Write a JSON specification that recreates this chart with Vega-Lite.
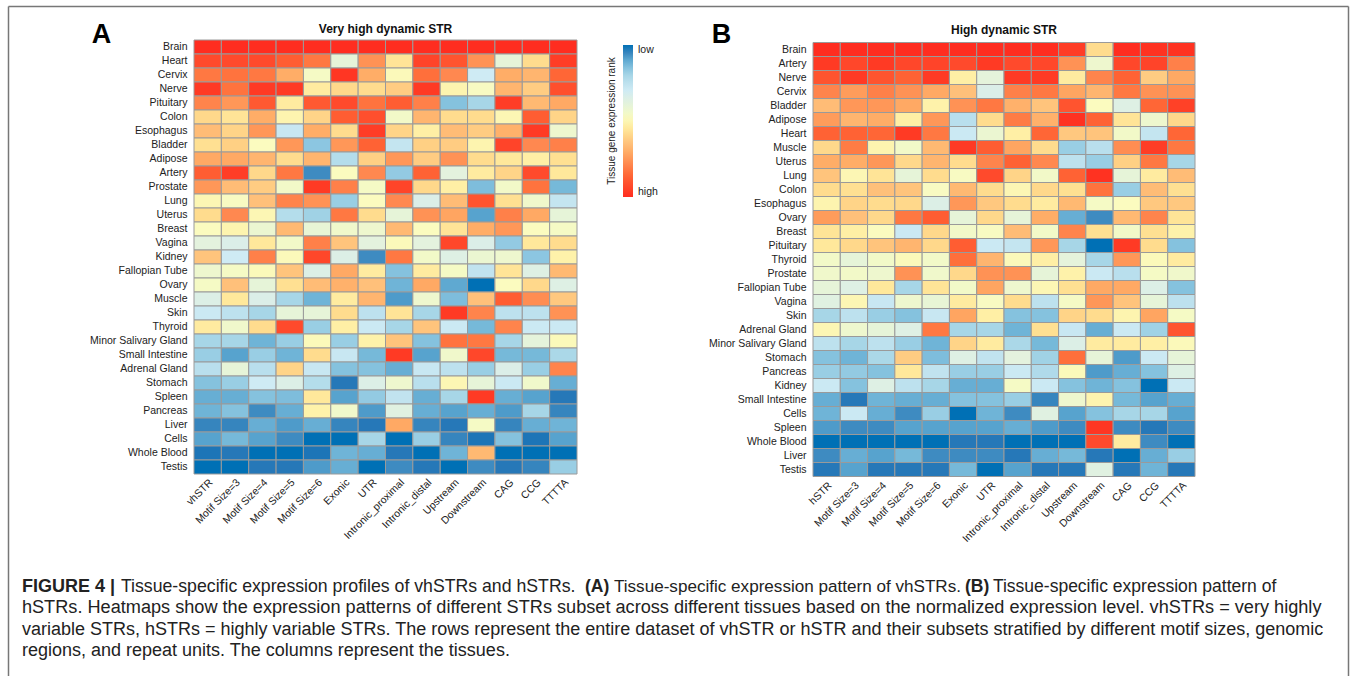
{"$schema":"https://vega.github.io/schema/vega-lite/v6.json","padding":{"left":8,"top":6,"right":6,"bottom":0},"background":"white","config":{"view":{"stroke":null},"font":"Liberation Sans","axis":{"ticks":false,"domain":false,"grid":false,"labelFont":"Liberation Sans","labelFontSize":10.5,"labelColor":"#222"},"title":{"font":"Liberation Sans","fontSize":12,"fontWeight":"bold","color":"#111"},"legend":{"labelFont":"Liberation Sans","titleFont":"Liberation Sans"}},
"datasets":{"a":[
{"t":"Brain","c":"vhSTR","v":0},{"t":"Brain","c":"Motif Size=3","v":0},{"t":"Brain","c":"Motif Size=4","v":0},{"t":"Brain","c":"Motif Size=5","v":0},{"t":"Brain","c":"Motif Size=6","v":0},{"t":"Brain","c":"Exonic","v":0},{"t":"Brain","c":"UTR","v":0},{"t":"Brain","c":"Intronic_proximal","v":0},{"t":"Brain","c":"Intronic_distal","v":0},{"t":"Brain","c":"Upstream","v":0},{"t":"Brain","c":"Downstream","v":0},{"t":"Brain","c":"CAG","v":0},{"t":"Brain","c":"CCG","v":0},{"t":"Brain","c":"TTTTA","v":0},
{"t":"Heart","c":"vhSTR","v":8},{"t":"Heart","c":"Motif Size=3","v":8},{"t":"Heart","c":"Motif Size=4","v":8},{"t":"Heart","c":"Motif Size=5","v":12},{"t":"Heart","c":"Motif Size=6","v":18},{"t":"Heart","c":"Exonic","v":60},{"t":"Heart","c":"UTR","v":24},{"t":"Heart","c":"Intronic_proximal","v":44},{"t":"Heart","c":"Intronic_distal","v":6},{"t":"Heart","c":"Upstream","v":10},{"t":"Heart","c":"Downstream","v":24},{"t":"Heart","c":"CAG","v":60},{"t":"Heart","c":"CCG","v":42},{"t":"Heart","c":"TTTTA","v":4},
{"t":"Cervix","c":"vhSTR","v":18},{"t":"Cervix","c":"Motif Size=3","v":17},{"t":"Cervix","c":"Motif Size=4","v":18},{"t":"Cervix","c":"Motif Size=5","v":30},{"t":"Cervix","c":"Motif Size=6","v":54},{"t":"Cervix","c":"Exonic","v":2},{"t":"Cervix","c":"UTR","v":30},{"t":"Cervix","c":"Intronic_proximal","v":51},{"t":"Cervix","c":"Intronic_distal","v":16},{"t":"Cervix","c":"Upstream","v":22},{"t":"Cervix","c":"Downstream","v":70},{"t":"Cervix","c":"CAG","v":30},{"t":"Cervix","c":"CCG","v":32},{"t":"Cervix","c":"TTTTA","v":14},
{"t":"Nerve","c":"vhSTR","v":3},{"t":"Nerve","c":"Motif Size=3","v":17},{"t":"Nerve","c":"Motif Size=4","v":3},{"t":"Nerve","c":"Motif Size=5","v":3},{"t":"Nerve","c":"Motif Size=6","v":46},{"t":"Nerve","c":"Exonic","v":41},{"t":"Nerve","c":"UTR","v":42},{"t":"Nerve","c":"Intronic_proximal","v":38},{"t":"Nerve","c":"Intronic_distal","v":3},{"t":"Nerve","c":"Upstream","v":49},{"t":"Nerve","c":"Downstream","v":53},{"t":"Nerve","c":"CAG","v":32},{"t":"Nerve","c":"CCG","v":38},{"t":"Nerve","c":"TTTTA","v":9},
{"t":"Pituitary","c":"vhSTR","v":21},{"t":"Pituitary","c":"Motif Size=3","v":25},{"t":"Pituitary","c":"Motif Size=4","v":11},{"t":"Pituitary","c":"Motif Size=5","v":46},{"t":"Pituitary","c":"Motif Size=6","v":11},{"t":"Pituitary","c":"Exonic","v":8},{"t":"Pituitary","c":"UTR","v":17},{"t":"Pituitary","c":"Intronic_proximal","v":12},{"t":"Pituitary","c":"Intronic_distal","v":20},{"t":"Pituitary","c":"Upstream","v":85},{"t":"Pituitary","c":"Downstream","v":80},{"t":"Pituitary","c":"CAG","v":4},{"t":"Pituitary","c":"CCG","v":33},{"t":"Pituitary","c":"TTTTA","v":29},
{"t":"Colon","c":"vhSTR","v":41},{"t":"Colon","c":"Motif Size=3","v":44},{"t":"Colon","c":"Motif Size=4","v":30},{"t":"Colon","c":"Motif Size=5","v":49},{"t":"Colon","c":"Motif Size=6","v":40},{"t":"Colon","c":"Exonic","v":12},{"t":"Colon","c":"UTR","v":9},{"t":"Colon","c":"Intronic_proximal","v":55},{"t":"Colon","c":"Intronic_distal","v":32},{"t":"Colon","c":"Upstream","v":42},{"t":"Colon","c":"Downstream","v":42},{"t":"Colon","c":"CAG","v":50},{"t":"Colon","c":"CCG","v":12},{"t":"Colon","c":"TTTTA","v":40},
{"t":"Esophagus","c":"vhSTR","v":34},{"t":"Esophagus","c":"Motif Size=3","v":40},{"t":"Esophagus","c":"Motif Size=4","v":25},{"t":"Esophagus","c":"Motif Size=5","v":72},{"t":"Esophagus","c":"Motif Size=6","v":30},{"t":"Esophagus","c":"Exonic","v":42},{"t":"Esophagus","c":"UTR","v":4},{"t":"Esophagus","c":"Intronic_proximal","v":40},{"t":"Esophagus","c":"Intronic_distal","v":47},{"t":"Esophagus","c":"Upstream","v":34},{"t":"Esophagus","c":"Downstream","v":38},{"t":"Esophagus","c":"CAG","v":31},{"t":"Esophagus","c":"CCG","v":3},{"t":"Esophagus","c":"TTTTA","v":57},
{"t":"Bladder","c":"vhSTR","v":43},{"t":"Bladder","c":"Motif Size=3","v":39},{"t":"Bladder","c":"Motif Size=4","v":52},{"t":"Bladder","c":"Motif Size=5","v":25},{"t":"Bladder","c":"Motif Size=6","v":84},{"t":"Bladder","c":"Exonic","v":25},{"t":"Bladder","c":"UTR","v":13},{"t":"Bladder","c":"Intronic_proximal","v":73},{"t":"Bladder","c":"Intronic_distal","v":39},{"t":"Bladder","c":"Upstream","v":38},{"t":"Bladder","c":"Downstream","v":49},{"t":"Bladder","c":"CAG","v":6},{"t":"Bladder","c":"CCG","v":22},{"t":"Bladder","c":"TTTTA","v":20},
{"t":"Adipose","c":"vhSTR","v":29},{"t":"Adipose","c":"Motif Size=3","v":29},{"t":"Adipose","c":"Motif Size=4","v":32},{"t":"Adipose","c":"Motif Size=5","v":42},{"t":"Adipose","c":"Motif Size=6","v":32},{"t":"Adipose","c":"Exonic","v":77},{"t":"Adipose","c":"UTR","v":39},{"t":"Adipose","c":"Intronic_proximal","v":25},{"t":"Adipose","c":"Intronic_distal","v":38},{"t":"Adipose","c":"Upstream","v":24},{"t":"Adipose","c":"Downstream","v":42},{"t":"Adipose","c":"CAG","v":45},{"t":"Adipose","c":"CCG","v":47},{"t":"Adipose","c":"TTTTA","v":43},
{"t":"Artery","c":"vhSTR","v":12},{"t":"Artery","c":"Motif Size=3","v":4},{"t":"Artery","c":"Motif Size=4","v":41},{"t":"Artery","c":"Motif Size=5","v":18},{"t":"Artery","c":"Motif Size=6","v":94},{"t":"Artery","c":"Exonic","v":52},{"t":"Artery","c":"UTR","v":22},{"t":"Artery","c":"Intronic_proximal","v":83},{"t":"Artery","c":"Intronic_distal","v":13},{"t":"Artery","c":"Upstream","v":62},{"t":"Artery","c":"Downstream","v":46},{"t":"Artery","c":"CAG","v":40},{"t":"Artery","c":"CCG","v":8},{"t":"Artery","c":"TTTTA","v":45},
{"t":"Prostate","c":"vhSTR","v":25},{"t":"Prostate","c":"Motif Size=3","v":34},{"t":"Prostate","c":"Motif Size=4","v":38},{"t":"Prostate","c":"Motif Size=5","v":55},{"t":"Prostate","c":"Motif Size=6","v":3},{"t":"Prostate","c":"Exonic","v":20},{"t":"Prostate","c":"UTR","v":54},{"t":"Prostate","c":"Intronic_proximal","v":6},{"t":"Prostate","c":"Intronic_distal","v":41},{"t":"Prostate","c":"Upstream","v":47},{"t":"Prostate","c":"Downstream","v":86},{"t":"Prostate","c":"CAG","v":55},{"t":"Prostate","c":"CCG","v":17},{"t":"Prostate","c":"TTTTA","v":87},
{"t":"Lung","c":"vhSTR","v":50},{"t":"Lung","c":"Motif Size=3","v":53},{"t":"Lung","c":"Motif Size=4","v":35},{"t":"Lung","c":"Motif Size=5","v":21},{"t":"Lung","c":"Motif Size=6","v":24},{"t":"Lung","c":"Exonic","v":82},{"t":"Lung","c":"UTR","v":52},{"t":"Lung","c":"Intronic_proximal","v":22},{"t":"Lung","c":"Intronic_distal","v":66},{"t":"Lung","c":"Upstream","v":34},{"t":"Lung","c":"Downstream","v":10},{"t":"Lung","c":"CAG","v":43},{"t":"Lung","c":"CCG","v":56},{"t":"Lung","c":"TTTTA","v":73},
{"t":"Uterus","c":"vhSTR","v":42},{"t":"Uterus","c":"Motif Size=3","v":22},{"t":"Uterus","c":"Motif Size=4","v":50},{"t":"Uterus","c":"Motif Size=5","v":77},{"t":"Uterus","c":"Motif Size=6","v":81},{"t":"Uterus","c":"Exonic","v":18},{"t":"Uterus","c":"UTR","v":42},{"t":"Uterus","c":"Intronic_proximal","v":60},{"t":"Uterus","c":"Intronic_distal","v":24},{"t":"Uterus","c":"Upstream","v":28},{"t":"Uterus","c":"Downstream","v":91},{"t":"Uterus","c":"CAG","v":20},{"t":"Uterus","c":"CCG","v":29},{"t":"Uterus","c":"TTTTA","v":60},
{"t":"Breast","c":"vhSTR","v":52},{"t":"Breast","c":"Motif Size=3","v":49},{"t":"Breast","c":"Motif Size=4","v":58},{"t":"Breast","c":"Motif Size=5","v":33},{"t":"Breast","c":"Motif Size=6","v":59},{"t":"Breast","c":"Exonic","v":56},{"t":"Breast","c":"UTR","v":57},{"t":"Breast","c":"Intronic_proximal","v":33},{"t":"Breast","c":"Intronic_distal","v":52},{"t":"Breast","c":"Upstream","v":44},{"t":"Breast","c":"Downstream","v":30},{"t":"Breast","c":"CAG","v":25},{"t":"Breast","c":"CCG","v":52},{"t":"Breast","c":"TTTTA","v":54},
{"t":"Vagina","c":"vhSTR","v":62},{"t":"Vagina","c":"Motif Size=3","v":66},{"t":"Vagina","c":"Motif Size=4","v":45},{"t":"Vagina","c":"Motif Size=5","v":55},{"t":"Vagina","c":"Motif Size=6","v":20},{"t":"Vagina","c":"Exonic","v":36},{"t":"Vagina","c":"UTR","v":62},{"t":"Vagina","c":"Intronic_proximal","v":51},{"t":"Vagina","c":"Intronic_distal","v":62},{"t":"Vagina","c":"Upstream","v":7},{"t":"Vagina","c":"Downstream","v":66},{"t":"Vagina","c":"CAG","v":83},{"t":"Vagina","c":"CCG","v":45},{"t":"Vagina","c":"TTTTA","v":42},
{"t":"Kidney","c":"vhSTR","v":36},{"t":"Kidney","c":"Motif Size=3","v":70},{"t":"Kidney","c":"Motif Size=4","v":20},{"t":"Kidney","c":"Motif Size=5","v":51},{"t":"Kidney","c":"Motif Size=6","v":7},{"t":"Kidney","c":"Exonic","v":65},{"t":"Kidney","c":"UTR","v":94},{"t":"Kidney","c":"Intronic_proximal","v":18},{"t":"Kidney","c":"Intronic_distal","v":55},{"t":"Kidney","c":"Upstream","v":64},{"t":"Kidney","c":"Downstream","v":58},{"t":"Kidney","c":"CAG","v":57},{"t":"Kidney","c":"CCG","v":84},{"t":"Kidney","c":"TTTTA","v":48},
{"t":"Fallopian Tube","c":"vhSTR","v":57},{"t":"Fallopian Tube","c":"Motif Size=3","v":54},{"t":"Fallopian Tube","c":"Motif Size=4","v":51},{"t":"Fallopian Tube","c":"Motif Size=5","v":36},{"t":"Fallopian Tube","c":"Motif Size=6","v":65},{"t":"Fallopian Tube","c":"Exonic","v":29},{"t":"Fallopian Tube","c":"UTR","v":46},{"t":"Fallopian Tube","c":"Intronic_proximal","v":85},{"t":"Fallopian Tube","c":"Intronic_distal","v":46},{"t":"Fallopian Tube","c":"Upstream","v":54},{"t":"Fallopian Tube","c":"Downstream","v":74},{"t":"Fallopian Tube","c":"CAG","v":44},{"t":"Fallopian Tube","c":"CCG","v":64},{"t":"Fallopian Tube","c":"TTTTA","v":33},
{"t":"Ovary","c":"vhSTR","v":54},{"t":"Ovary","c":"Motif Size=3","v":35},{"t":"Ovary","c":"Motif Size=4","v":60},{"t":"Ovary","c":"Motif Size=5","v":43},{"t":"Ovary","c":"Motif Size=6","v":34},{"t":"Ovary","c":"Exonic","v":31},{"t":"Ovary","c":"UTR","v":35},{"t":"Ovary","c":"Intronic_proximal","v":88},{"t":"Ovary","c":"Intronic_distal","v":29},{"t":"Ovary","c":"Upstream","v":90},{"t":"Ovary","c":"Downstream","v":100},{"t":"Ovary","c":"CAG","v":52},{"t":"Ovary","c":"CCG","v":41},{"t":"Ovary","c":"TTTTA","v":64},
{"t":"Muscle","c":"vhSTR","v":65},{"t":"Muscle","c":"Motif Size=3","v":45},{"t":"Muscle","c":"Motif Size=4","v":66},{"t":"Muscle","c":"Motif Size=5","v":80},{"t":"Muscle","c":"Motif Size=6","v":88},{"t":"Muscle","c":"Exonic","v":46},{"t":"Muscle","c":"UTR","v":32},{"t":"Muscle","c":"Intronic_proximal","v":92},{"t":"Muscle","c":"Intronic_distal","v":57},{"t":"Muscle","c":"Upstream","v":86},{"t":"Muscle","c":"Downstream","v":35},{"t":"Muscle","c":"CAG","v":12},{"t":"Muscle","c":"CCG","v":23},{"t":"Muscle","c":"TTTTA","v":37},
{"t":"Skin","c":"vhSTR","v":71},{"t":"Skin","c":"Motif Size=3","v":75},{"t":"Skin","c":"Motif Size=4","v":80},{"t":"Skin","c":"Motif Size=5","v":60},{"t":"Skin","c":"Motif Size=6","v":60},{"t":"Skin","c":"Exonic","v":42},{"t":"Skin","c":"UTR","v":75},{"t":"Skin","c":"Intronic_proximal","v":44},{"t":"Skin","c":"Intronic_distal","v":80},{"t":"Skin","c":"Upstream","v":3},{"t":"Skin","c":"Downstream","v":21},{"t":"Skin","c":"CAG","v":75},{"t":"Skin","c":"CCG","v":75},{"t":"Skin","c":"TTTTA","v":24},
{"t":"Thyroid","c":"vhSTR","v":46},{"t":"Thyroid","c":"Motif Size=3","v":56},{"t":"Thyroid","c":"Motif Size=4","v":42},{"t":"Thyroid","c":"Motif Size=5","v":8},{"t":"Thyroid","c":"Motif Size=6","v":82},{"t":"Thyroid","c":"Exonic","v":47},{"t":"Thyroid","c":"UTR","v":71},{"t":"Thyroid","c":"Intronic_proximal","v":80},{"t":"Thyroid","c":"Intronic_distal","v":36},{"t":"Thyroid","c":"Upstream","v":71},{"t":"Thyroid","c":"Downstream","v":87},{"t":"Thyroid","c":"CAG","v":21},{"t":"Thyroid","c":"CCG","v":71},{"t":"Thyroid","c":"TTTTA","v":71},
{"t":"Minor Salivary Gland","c":"vhSTR","v":80},{"t":"Minor Salivary Gland","c":"Motif Size=3","v":80},{"t":"Minor Salivary Gland","c":"Motif Size=4","v":88},{"t":"Minor Salivary Gland","c":"Motif Size=5","v":82},{"t":"Minor Salivary Gland","c":"Motif Size=6","v":51},{"t":"Minor Salivary Gland","c":"Exonic","v":82},{"t":"Minor Salivary Gland","c":"UTR","v":48},{"t":"Minor Salivary Gland","c":"Intronic_proximal","v":36},{"t":"Minor Salivary Gland","c":"Intronic_distal","v":85},{"t":"Minor Salivary Gland","c":"Upstream","v":17},{"t":"Minor Salivary Gland","c":"Downstream","v":18},{"t":"Minor Salivary Gland","c":"CAG","v":80},{"t":"Minor Salivary Gland","c":"CCG","v":61},{"t":"Minor Salivary Gland","c":"TTTTA","v":51},
{"t":"Small Intestine","c":"vhSTR","v":82},{"t":"Small Intestine","c":"Motif Size=3","v":91},{"t":"Small Intestine","c":"Motif Size=4","v":82},{"t":"Small Intestine","c":"Motif Size=5","v":88},{"t":"Small Intestine","c":"Motif Size=6","v":42},{"t":"Small Intestine","c":"Exonic","v":72},{"t":"Small Intestine","c":"UTR","v":87},{"t":"Small Intestine","c":"Intronic_proximal","v":3},{"t":"Small Intestine","c":"Intronic_distal","v":91},{"t":"Small Intestine","c":"Upstream","v":56},{"t":"Small Intestine","c":"Downstream","v":7},{"t":"Small Intestine","c":"CAG","v":87},{"t":"Small Intestine","c":"CCG","v":87},{"t":"Small Intestine","c":"TTTTA","v":79},
{"t":"Adrenal Gland","c":"vhSTR","v":76},{"t":"Adrenal Gland","c":"Motif Size=3","v":60},{"t":"Adrenal Gland","c":"Motif Size=4","v":76},{"t":"Adrenal Gland","c":"Motif Size=5","v":40},{"t":"Adrenal Gland","c":"Motif Size=6","v":72},{"t":"Adrenal Gland","c":"Exonic","v":85},{"t":"Adrenal Gland","c":"UTR","v":85},{"t":"Adrenal Gland","c":"Intronic_proximal","v":89},{"t":"Adrenal Gland","c":"Intronic_distal","v":72},{"t":"Adrenal Gland","c":"Upstream","v":75},{"t":"Adrenal Gland","c":"Downstream","v":82},{"t":"Adrenal Gland","c":"CAG","v":66},{"t":"Adrenal Gland","c":"CCG","v":82},{"t":"Adrenal Gland","c":"TTTTA","v":21},
{"t":"Stomach","c":"vhSTR","v":85},{"t":"Stomach","c":"Motif Size=3","v":82},{"t":"Stomach","c":"Motif Size=4","v":70},{"t":"Stomach","c":"Motif Size=5","v":65},{"t":"Stomach","c":"Motif Size=6","v":77},{"t":"Stomach","c":"Exonic","v":97},{"t":"Stomach","c":"UTR","v":65},{"t":"Stomach","c":"Intronic_proximal","v":57},{"t":"Stomach","c":"Intronic_distal","v":76},{"t":"Stomach","c":"Upstream","v":50},{"t":"Stomach","c":"Downstream","v":60},{"t":"Stomach","c":"CAG","v":71},{"t":"Stomach","c":"CCG","v":56},{"t":"Stomach","c":"TTTTA","v":89},
{"t":"Spleen","c":"vhSTR","v":89},{"t":"Spleen","c":"Motif Size=3","v":89},{"t":"Spleen","c":"Motif Size=4","v":85},{"t":"Spleen","c":"Motif Size=5","v":86},{"t":"Spleen","c":"Motif Size=6","v":45},{"t":"Spleen","c":"Exonic","v":91},{"t":"Spleen","c":"UTR","v":83},{"t":"Spleen","c":"Intronic_proximal","v":74},{"t":"Spleen","c":"Intronic_distal","v":89},{"t":"Spleen","c":"Upstream","v":80},{"t":"Spleen","c":"Downstream","v":3},{"t":"Spleen","c":"CAG","v":89},{"t":"Spleen","c":"CCG","v":91},{"t":"Spleen","c":"TTTTA","v":97},
{"t":"Pancreas","c":"vhSTR","v":88},{"t":"Pancreas","c":"Motif Size=3","v":85},{"t":"Pancreas","c":"Motif Size=4","v":94},{"t":"Pancreas","c":"Motif Size=5","v":89},{"t":"Pancreas","c":"Motif Size=6","v":48},{"t":"Pancreas","c":"Exonic","v":56},{"t":"Pancreas","c":"UTR","v":92},{"t":"Pancreas","c":"Intronic_proximal","v":63},{"t":"Pancreas","c":"Intronic_distal","v":89},{"t":"Pancreas","c":"Upstream","v":91},{"t":"Pancreas","c":"Downstream","v":89},{"t":"Pancreas","c":"CAG","v":92},{"t":"Pancreas","c":"CCG","v":80},{"t":"Pancreas","c":"TTTTA","v":95},
{"t":"Liver","c":"vhSTR","v":95},{"t":"Liver","c":"Motif Size=3","v":95},{"t":"Liver","c":"Motif Size=4","v":89},{"t":"Liver","c":"Motif Size=5","v":92},{"t":"Liver","c":"Motif Size=6","v":89},{"t":"Liver","c":"Exonic","v":95},{"t":"Liver","c":"UTR","v":97},{"t":"Liver","c":"Intronic_proximal","v":29},{"t":"Liver","c":"Intronic_distal","v":95},{"t":"Liver","c":"Upstream","v":97},{"t":"Liver","c":"Downstream","v":54},{"t":"Liver","c":"CAG","v":95},{"t":"Liver","c":"CCG","v":89},{"t":"Liver","c":"TTTTA","v":88},
{"t":"Cells","c":"vhSTR","v":91},{"t":"Cells","c":"Motif Size=3","v":87},{"t":"Cells","c":"Motif Size=4","v":91},{"t":"Cells","c":"Motif Size=5","v":94},{"t":"Cells","c":"Motif Size=6","v":100},{"t":"Cells","c":"Exonic","v":100},{"t":"Cells","c":"UTR","v":80},{"t":"Cells","c":"Intronic_proximal","v":100},{"t":"Cells","c":"Intronic_distal","v":82},{"t":"Cells","c":"Upstream","v":95},{"t":"Cells","c":"Downstream","v":98},{"t":"Cells","c":"CAG","v":85},{"t":"Cells","c":"CCG","v":98},{"t":"Cells","c":"TTTTA","v":91},
{"t":"Whole Blood","c":"vhSTR","v":98},{"t":"Whole Blood","c":"Motif Size=3","v":97},{"t":"Whole Blood","c":"Motif Size=4","v":100},{"t":"Whole Blood","c":"Motif Size=5","v":100},{"t":"Whole Blood","c":"Motif Size=6","v":98},{"t":"Whole Blood","c":"Exonic","v":88},{"t":"Whole Blood","c":"UTR","v":89},{"t":"Whole Blood","c":"Intronic_proximal","v":97},{"t":"Whole Blood","c":"Intronic_distal","v":100},{"t":"Whole Blood","c":"Upstream","v":88},{"t":"Whole Blood","c":"Downstream","v":33},{"t":"Whole Blood","c":"CAG","v":100},{"t":"Whole Blood","c":"CCG","v":100},{"t":"Whole Blood","c":"TTTTA","v":100},
{"t":"Testis","c":"vhSTR","v":100},{"t":"Testis","c":"Motif Size=3","v":100},{"t":"Testis","c":"Motif Size=4","v":97},{"t":"Testis","c":"Motif Size=5","v":97},{"t":"Testis","c":"Motif Size=6","v":92},{"t":"Testis","c":"Exonic","v":89},{"t":"Testis","c":"UTR","v":100},{"t":"Testis","c":"Intronic_proximal","v":94},{"t":"Testis","c":"Intronic_distal","v":97},{"t":"Testis","c":"Upstream","v":100},{"t":"Testis","c":"Downstream","v":94},{"t":"Testis","c":"CAG","v":97},{"t":"Testis","c":"CCG","v":95},{"t":"Testis","c":"TTTTA","v":82}
],"b":[
{"t":"Brain","c":"hSTR","v":0},{"t":"Brain","c":"Motif Size=3","v":0},{"t":"Brain","c":"Motif Size=4","v":0},{"t":"Brain","c":"Motif Size=5","v":0},{"t":"Brain","c":"Motif Size=6","v":0},{"t":"Brain","c":"Exonic","v":0},{"t":"Brain","c":"UTR","v":0},{"t":"Brain","c":"Intronic_proximal","v":0},{"t":"Brain","c":"Intronic_distal","v":0},{"t":"Brain","c":"Upstream","v":4},{"t":"Brain","c":"Downstream","v":42},{"t":"Brain","c":"CAG","v":0},{"t":"Brain","c":"CCG","v":1},{"t":"Brain","c":"TTTTA","v":1},
{"t":"Artery","c":"hSTR","v":3},{"t":"Artery","c":"Motif Size=3","v":7},{"t":"Artery","c":"Motif Size=4","v":3},{"t":"Artery","c":"Motif Size=5","v":7},{"t":"Artery","c":"Motif Size=6","v":6},{"t":"Artery","c":"Exonic","v":8},{"t":"Artery","c":"UTR","v":3},{"t":"Artery","c":"Intronic_proximal","v":8},{"t":"Artery","c":"Intronic_distal","v":7},{"t":"Artery","c":"Upstream","v":24},{"t":"Artery","c":"Downstream","v":57},{"t":"Artery","c":"CAG","v":7},{"t":"Artery","c":"CCG","v":6},{"t":"Artery","c":"TTTTA","v":20},
{"t":"Nerve","c":"hSTR","v":10},{"t":"Nerve","c":"Motif Size=3","v":3},{"t":"Nerve","c":"Motif Size=4","v":10},{"t":"Nerve","c":"Motif Size=5","v":13},{"t":"Nerve","c":"Motif Size=6","v":3},{"t":"Nerve","c":"Exonic","v":47},{"t":"Nerve","c":"UTR","v":61},{"t":"Nerve","c":"Intronic_proximal","v":3},{"t":"Nerve","c":"Intronic_distal","v":3},{"t":"Nerve","c":"Upstream","v":46},{"t":"Nerve","c":"Downstream","v":21},{"t":"Nerve","c":"CAG","v":13},{"t":"Nerve","c":"CCG","v":38},{"t":"Nerve","c":"TTTTA","v":29},
{"t":"Cervix","c":"hSTR","v":21},{"t":"Cervix","c":"Motif Size=3","v":26},{"t":"Cervix","c":"Motif Size=4","v":20},{"t":"Cervix","c":"Motif Size=5","v":24},{"t":"Cervix","c":"Motif Size=6","v":29},{"t":"Cervix","c":"Exonic","v":35},{"t":"Cervix","c":"UTR","v":66},{"t":"Cervix","c":"Intronic_proximal","v":20},{"t":"Cervix","c":"Intronic_distal","v":18},{"t":"Cervix","c":"Upstream","v":28},{"t":"Cervix","c":"Downstream","v":32},{"t":"Cervix","c":"CAG","v":18},{"t":"Cervix","c":"CCG","v":24},{"t":"Cervix","c":"TTTTA","v":24},
{"t":"Bladder","c":"hSTR","v":34},{"t":"Bladder","c":"Motif Size=3","v":25},{"t":"Bladder","c":"Motif Size=4","v":25},{"t":"Bladder","c":"Motif Size=5","v":29},{"t":"Bladder","c":"Motif Size=6","v":48},{"t":"Bladder","c":"Exonic","v":24},{"t":"Bladder","c":"UTR","v":18},{"t":"Bladder","c":"Intronic_proximal","v":31},{"t":"Bladder","c":"Intronic_distal","v":36},{"t":"Bladder","c":"Upstream","v":10},{"t":"Bladder","c":"Downstream","v":52},{"t":"Bladder","c":"CAG","v":64},{"t":"Bladder","c":"CCG","v":14},{"t":"Bladder","c":"TTTTA","v":5},
{"t":"Adipose","c":"hSTR","v":26},{"t":"Adipose","c":"Motif Size=3","v":32},{"t":"Adipose","c":"Motif Size=4","v":30},{"t":"Adipose","c":"Motif Size=5","v":47},{"t":"Adipose","c":"Motif Size=6","v":25},{"t":"Adipose","c":"Exonic","v":76},{"t":"Adipose","c":"UTR","v":42},{"t":"Adipose","c":"Intronic_proximal","v":19},{"t":"Adipose","c":"Intronic_distal","v":31},{"t":"Adipose","c":"Upstream","v":1},{"t":"Adipose","c":"Downstream","v":13},{"t":"Adipose","c":"CAG","v":44},{"t":"Adipose","c":"CCG","v":57},{"t":"Adipose","c":"TTTTA","v":41},
{"t":"Heart","c":"hSTR","v":13},{"t":"Heart","c":"Motif Size=3","v":13},{"t":"Heart","c":"Motif Size=4","v":14},{"t":"Heart","c":"Motif Size=5","v":3},{"t":"Heart","c":"Motif Size=6","v":18},{"t":"Heart","c":"Exonic","v":71},{"t":"Heart","c":"UTR","v":58},{"t":"Heart","c":"Intronic_proximal","v":47},{"t":"Heart","c":"Intronic_distal","v":14},{"t":"Heart","c":"Upstream","v":37},{"t":"Heart","c":"Downstream","v":36},{"t":"Heart","c":"CAG","v":55},{"t":"Heart","c":"CCG","v":73},{"t":"Heart","c":"TTTTA","v":14},
{"t":"Muscle","c":"hSTR","v":41},{"t":"Muscle","c":"Motif Size=3","v":19},{"t":"Muscle","c":"Motif Size=4","v":49},{"t":"Muscle","c":"Motif Size=5","v":55},{"t":"Muscle","c":"Motif Size=6","v":33},{"t":"Muscle","c":"Exonic","v":3},{"t":"Muscle","c":"UTR","v":12},{"t":"Muscle","c":"Intronic_proximal","v":28},{"t":"Muscle","c":"Intronic_distal","v":42},{"t":"Muscle","c":"Upstream","v":82},{"t":"Muscle","c":"Downstream","v":76},{"t":"Muscle","c":"CAG","v":23},{"t":"Muscle","c":"CCG","v":4},{"t":"Muscle","c":"TTTTA","v":18},
{"t":"Uterus","c":"hSTR","v":30},{"t":"Uterus","c":"Motif Size=3","v":30},{"t":"Uterus","c":"Motif Size=4","v":25},{"t":"Uterus","c":"Motif Size=5","v":41},{"t":"Uterus","c":"Motif Size=6","v":32},{"t":"Uterus","c":"Exonic","v":42},{"t":"Uterus","c":"UTR","v":21},{"t":"Uterus","c":"Intronic_proximal","v":13},{"t":"Uterus","c":"Intronic_distal","v":22},{"t":"Uterus","c":"Upstream","v":75},{"t":"Uterus","c":"Downstream","v":82},{"t":"Uterus","c":"CAG","v":39},{"t":"Uterus","c":"CCG","v":18},{"t":"Uterus","c":"TTTTA","v":80},
{"t":"Lung","c":"hSTR","v":36},{"t":"Lung","c":"Motif Size=3","v":50},{"t":"Lung","c":"Motif Size=4","v":44},{"t":"Lung","c":"Motif Size=5","v":60},{"t":"Lung","c":"Motif Size=6","v":42},{"t":"Lung","c":"Exonic","v":53},{"t":"Lung","c":"UTR","v":8},{"t":"Lung","c":"Intronic_proximal","v":40},{"t":"Lung","c":"Intronic_distal","v":55},{"t":"Lung","c":"Upstream","v":13},{"t":"Lung","c":"Downstream","v":1},{"t":"Lung","c":"CAG","v":60},{"t":"Lung","c":"CCG","v":46},{"t":"Lung","c":"TTTTA","v":34},
{"t":"Colon","c":"hSTR","v":42},{"t":"Colon","c":"Motif Size=3","v":43},{"t":"Colon","c":"Motif Size=4","v":35},{"t":"Colon","c":"Motif Size=5","v":36},{"t":"Colon","c":"Motif Size=6","v":53},{"t":"Colon","c":"Exonic","v":33},{"t":"Colon","c":"UTR","v":42},{"t":"Colon","c":"Intronic_proximal","v":50},{"t":"Colon","c":"Intronic_distal","v":41},{"t":"Colon","c":"Upstream","v":43},{"t":"Colon","c":"Downstream","v":17},{"t":"Colon","c":"CAG","v":82},{"t":"Colon","c":"CCG","v":34},{"t":"Colon","c":"TTTTA","v":43},
{"t":"Esophagus","c":"hSTR","v":49},{"t":"Esophagus","c":"Motif Size=3","v":40},{"t":"Esophagus","c":"Motif Size=4","v":42},{"t":"Esophagus","c":"Motif Size=5","v":41},{"t":"Esophagus","c":"Motif Size=6","v":65},{"t":"Esophagus","c":"Exonic","v":25},{"t":"Esophagus","c":"UTR","v":37},{"t":"Esophagus","c":"Intronic_proximal","v":42},{"t":"Esophagus","c":"Intronic_distal","v":46},{"t":"Esophagus","c":"Upstream","v":33},{"t":"Esophagus","c":"Downstream","v":54},{"t":"Esophagus","c":"CAG","v":52},{"t":"Esophagus","c":"CCG","v":37},{"t":"Esophagus","c":"TTTTA","v":37},
{"t":"Ovary","c":"hSTR","v":26},{"t":"Ovary","c":"Motif Size=3","v":35},{"t":"Ovary","c":"Motif Size=4","v":41},{"t":"Ovary","c":"Motif Size=5","v":18},{"t":"Ovary","c":"Motif Size=6","v":12},{"t":"Ovary","c":"Exonic","v":60},{"t":"Ovary","c":"UTR","v":41},{"t":"Ovary","c":"Intronic_proximal","v":60},{"t":"Ovary","c":"Intronic_distal","v":30},{"t":"Ovary","c":"Upstream","v":89},{"t":"Ovary","c":"Downstream","v":94},{"t":"Ovary","c":"CAG","v":33},{"t":"Ovary","c":"CCG","v":21},{"t":"Ovary","c":"TTTTA","v":44},
{"t":"Breast","c":"hSTR","v":44},{"t":"Breast","c":"Motif Size=3","v":47},{"t":"Breast","c":"Motif Size=4","v":52},{"t":"Breast","c":"Motif Size=5","v":71},{"t":"Breast","c":"Motif Size=6","v":41},{"t":"Breast","c":"Exonic","v":55},{"t":"Breast","c":"UTR","v":53},{"t":"Breast","c":"Intronic_proximal","v":34},{"t":"Breast","c":"Intronic_distal","v":55},{"t":"Breast","c":"Upstream","v":21},{"t":"Breast","c":"Downstream","v":43},{"t":"Breast","c":"CAG","v":55},{"t":"Breast","c":"CCG","v":43},{"t":"Breast","c":"TTTTA","v":48},
{"t":"Pituitary","c":"hSTR","v":45},{"t":"Pituitary","c":"Motif Size=3","v":41},{"t":"Pituitary","c":"Motif Size=4","v":36},{"t":"Pituitary","c":"Motif Size=5","v":32},{"t":"Pituitary","c":"Motif Size=6","v":41},{"t":"Pituitary","c":"Exonic","v":12},{"t":"Pituitary","c":"UTR","v":71},{"t":"Pituitary","c":"Intronic_proximal","v":73},{"t":"Pituitary","c":"Intronic_distal","v":25},{"t":"Pituitary","c":"Upstream","v":80},{"t":"Pituitary","c":"Downstream","v":100},{"t":"Pituitary","c":"CAG","v":3},{"t":"Pituitary","c":"CCG","v":42},{"t":"Pituitary","c":"TTTTA","v":85},
{"t":"Thyroid","c":"hSTR","v":55},{"t":"Thyroid","c":"Motif Size=3","v":60},{"t":"Thyroid","c":"Motif Size=4","v":55},{"t":"Thyroid","c":"Motif Size=5","v":51},{"t":"Thyroid","c":"Motif Size=6","v":55},{"t":"Thyroid","c":"Exonic","v":16},{"t":"Thyroid","c":"UTR","v":32},{"t":"Thyroid","c":"Intronic_proximal","v":51},{"t":"Thyroid","c":"Intronic_distal","v":47},{"t":"Thyroid","c":"Upstream","v":61},{"t":"Thyroid","c":"Downstream","v":80},{"t":"Thyroid","c":"CAG","v":25},{"t":"Thyroid","c":"CCG","v":51},{"t":"Thyroid","c":"TTTTA","v":46},
{"t":"Prostate","c":"hSTR","v":56},{"t":"Prostate","c":"Motif Size=3","v":55},{"t":"Prostate","c":"Motif Size=4","v":57},{"t":"Prostate","c":"Motif Size=5","v":24},{"t":"Prostate","c":"Motif Size=6","v":56},{"t":"Prostate","c":"Exonic","v":41},{"t":"Prostate","c":"UTR","v":24},{"t":"Prostate","c":"Intronic_proximal","v":24},{"t":"Prostate","c":"Intronic_distal","v":60},{"t":"Prostate","c":"Upstream","v":48},{"t":"Prostate","c":"Downstream","v":71},{"t":"Prostate","c":"CAG","v":76},{"t":"Prostate","c":"CCG","v":54},{"t":"Prostate","c":"TTTTA","v":56},
{"t":"Fallopian Tube","c":"hSTR","v":60},{"t":"Fallopian Tube","c":"Motif Size=3","v":64},{"t":"Fallopian Tube","c":"Motif Size=4","v":45},{"t":"Fallopian Tube","c":"Motif Size=5","v":80},{"t":"Fallopian Tube","c":"Motif Size=6","v":44},{"t":"Fallopian Tube","c":"Exonic","v":55},{"t":"Fallopian Tube","c":"UTR","v":28},{"t":"Fallopian Tube","c":"Intronic_proximal","v":57},{"t":"Fallopian Tube","c":"Intronic_distal","v":50},{"t":"Fallopian Tube","c":"Upstream","v":43},{"t":"Fallopian Tube","c":"Downstream","v":29},{"t":"Fallopian Tube","c":"CAG","v":29},{"t":"Fallopian Tube","c":"CCG","v":65},{"t":"Fallopian Tube","c":"TTTTA","v":85},
{"t":"Vagina","c":"hSTR","v":63},{"t":"Vagina","c":"Motif Size=3","v":50},{"t":"Vagina","c":"Motif Size=4","v":72},{"t":"Vagina","c":"Motif Size=5","v":57},{"t":"Vagina","c":"Motif Size=6","v":59},{"t":"Vagina","c":"Exonic","v":46},{"t":"Vagina","c":"UTR","v":53},{"t":"Vagina","c":"Intronic_proximal","v":42},{"t":"Vagina","c":"Intronic_distal","v":75},{"t":"Vagina","c":"Upstream","v":54},{"t":"Vagina","c":"Downstream","v":25},{"t":"Vagina","c":"CAG","v":36},{"t":"Vagina","c":"CCG","v":60},{"t":"Vagina","c":"TTTTA","v":75},
{"t":"Skin","c":"hSTR","v":80},{"t":"Skin","c":"Motif Size=3","v":75},{"t":"Skin","c":"Motif Size=4","v":82},{"t":"Skin","c":"Motif Size=5","v":85},{"t":"Skin","c":"Motif Size=6","v":72},{"t":"Skin","c":"Exonic","v":28},{"t":"Skin","c":"UTR","v":47},{"t":"Skin","c":"Intronic_proximal","v":85},{"t":"Skin","c":"Intronic_distal","v":85},{"t":"Skin","c":"Upstream","v":40},{"t":"Skin","c":"Downstream","v":42},{"t":"Skin","c":"CAG","v":49},{"t":"Skin","c":"CCG","v":28},{"t":"Skin","c":"TTTTA","v":54},
{"t":"Adrenal Gland","c":"hSTR","v":50},{"t":"Adrenal Gland","c":"Motif Size=3","v":57},{"t":"Adrenal Gland","c":"Motif Size=4","v":60},{"t":"Adrenal Gland","c":"Motif Size=5","v":64},{"t":"Adrenal Gland","c":"Motif Size=6","v":18},{"t":"Adrenal Gland","c":"Exonic","v":80},{"t":"Adrenal Gland","c":"UTR","v":80},{"t":"Adrenal Gland","c":"Intronic_proximal","v":88},{"t":"Adrenal Gland","c":"Intronic_distal","v":43},{"t":"Adrenal Gland","c":"Upstream","v":72},{"t":"Adrenal Gland","c":"Downstream","v":89},{"t":"Adrenal Gland","c":"CAG","v":71},{"t":"Adrenal Gland","c":"CCG","v":81},{"t":"Adrenal Gland","c":"TTTTA","v":10},
{"t":"Minor Salivary Gland","c":"hSTR","v":75},{"t":"Minor Salivary Gland","c":"Motif Size=3","v":80},{"t":"Minor Salivary Gland","c":"Motif Size=4","v":75},{"t":"Minor Salivary Gland","c":"Motif Size=5","v":82},{"t":"Minor Salivary Gland","c":"Motif Size=6","v":88},{"t":"Minor Salivary Gland","c":"Exonic","v":40},{"t":"Minor Salivary Gland","c":"UTR","v":46},{"t":"Minor Salivary Gland","c":"Intronic_proximal","v":79},{"t":"Minor Salivary Gland","c":"Intronic_distal","v":87},{"t":"Minor Salivary Gland","c":"Upstream","v":65},{"t":"Minor Salivary Gland","c":"Downstream","v":46},{"t":"Minor Salivary Gland","c":"CAG","v":46},{"t":"Minor Salivary Gland","c":"CCG","v":47},{"t":"Minor Salivary Gland","c":"TTTTA","v":51},
{"t":"Stomach","c":"hSTR","v":85},{"t":"Stomach","c":"Motif Size=3","v":88},{"t":"Stomach","c":"Motif Size=4","v":79},{"t":"Stomach","c":"Motif Size=5","v":38},{"t":"Stomach","c":"Motif Size=6","v":86},{"t":"Stomach","c":"Exonic","v":64},{"t":"Stomach","c":"UTR","v":74},{"t":"Stomach","c":"Intronic_proximal","v":62},{"t":"Stomach","c":"Intronic_distal","v":81},{"t":"Stomach","c":"Upstream","v":16},{"t":"Stomach","c":"Downstream","v":60},{"t":"Stomach","c":"CAG","v":92},{"t":"Stomach","c":"CCG","v":71},{"t":"Stomach","c":"TTTTA","v":60},
{"t":"Pancreas","c":"hSTR","v":82},{"t":"Pancreas","c":"Motif Size=3","v":83},{"t":"Pancreas","c":"Motif Size=4","v":85},{"t":"Pancreas","c":"Motif Size=5","v":45},{"t":"Pancreas","c":"Motif Size=6","v":74},{"t":"Pancreas","c":"Exonic","v":82},{"t":"Pancreas","c":"UTR","v":82},{"t":"Pancreas","c":"Intronic_proximal","v":71},{"t":"Pancreas","c":"Intronic_distal","v":78},{"t":"Pancreas","c":"Upstream","v":51},{"t":"Pancreas","c":"Downstream","v":92},{"t":"Pancreas","c":"CAG","v":89},{"t":"Pancreas","c":"CCG","v":85},{"t":"Pancreas","c":"TTTTA","v":64},
{"t":"Kidney","c":"hSTR","v":71},{"t":"Kidney","c":"Motif Size=3","v":85},{"t":"Kidney","c":"Motif Size=4","v":64},{"t":"Kidney","c":"Motif Size=5","v":75},{"t":"Kidney","c":"Motif Size=6","v":80},{"t":"Kidney","c":"Exonic","v":89},{"t":"Kidney","c":"UTR","v":89},{"t":"Kidney","c":"Intronic_proximal","v":54},{"t":"Kidney","c":"Intronic_distal","v":71},{"t":"Kidney","c":"Upstream","v":85},{"t":"Kidney","c":"Downstream","v":88},{"t":"Kidney","c":"CAG","v":85},{"t":"Kidney","c":"CCG","v":100},{"t":"Kidney","c":"TTTTA","v":71},
{"t":"Small Intestine","c":"hSTR","v":89},{"t":"Small Intestine","c":"Motif Size=3","v":97},{"t":"Small Intestine","c":"Motif Size=4","v":88},{"t":"Small Intestine","c":"Motif Size=5","v":89},{"t":"Small Intestine","c":"Motif Size=6","v":89},{"t":"Small Intestine","c":"Exonic","v":85},{"t":"Small Intestine","c":"UTR","v":85},{"t":"Small Intestine","c":"Intronic_proximal","v":82},{"t":"Small Intestine","c":"Intronic_distal","v":95},{"t":"Small Intestine","c":"Upstream","v":57},{"t":"Small Intestine","c":"Downstream","v":49},{"t":"Small Intestine","c":"CAG","v":87},{"t":"Small Intestine","c":"CCG","v":91},{"t":"Small Intestine","c":"TTTTA","v":89},
{"t":"Cells","c":"hSTR","v":88},{"t":"Cells","c":"Motif Size=3","v":71},{"t":"Cells","c":"Motif Size=4","v":89},{"t":"Cells","c":"Motif Size=5","v":94},{"t":"Cells","c":"Motif Size=6","v":82},{"t":"Cells","c":"Exonic","v":100},{"t":"Cells","c":"UTR","v":88},{"t":"Cells","c":"Intronic_proximal","v":94},{"t":"Cells","c":"Intronic_distal","v":63},{"t":"Cells","c":"Upstream","v":91},{"t":"Cells","c":"Downstream","v":85},{"t":"Cells","c":"CAG","v":80},{"t":"Cells","c":"CCG","v":80},{"t":"Cells","c":"TTTTA","v":91},
{"t":"Spleen","c":"hSTR","v":92},{"t":"Spleen","c":"Motif Size=3","v":94},{"t":"Spleen","c":"Motif Size=4","v":94},{"t":"Spleen","c":"Motif Size=5","v":91},{"t":"Spleen","c":"Motif Size=6","v":91},{"t":"Spleen","c":"Exonic","v":91},{"t":"Spleen","c":"UTR","v":91},{"t":"Spleen","c":"Intronic_proximal","v":89},{"t":"Spleen","c":"Intronic_distal","v":92},{"t":"Spleen","c":"Upstream","v":94},{"t":"Spleen","c":"Downstream","v":2},{"t":"Spleen","c":"CAG","v":94},{"t":"Spleen","c":"CCG","v":97},{"t":"Spleen","c":"TTTTA","v":94},
{"t":"Whole Blood","c":"hSTR","v":100},{"t":"Whole Blood","c":"Motif Size=3","v":100},{"t":"Whole Blood","c":"Motif Size=4","v":100},{"t":"Whole Blood","c":"Motif Size=5","v":100},{"t":"Whole Blood","c":"Motif Size=6","v":100},{"t":"Whole Blood","c":"Exonic","v":97},{"t":"Whole Blood","c":"UTR","v":97},{"t":"Whole Blood","c":"Intronic_proximal","v":100},{"t":"Whole Blood","c":"Intronic_distal","v":100},{"t":"Whole Blood","c":"Upstream","v":100},{"t":"Whole Blood","c":"Downstream","v":8},{"t":"Whole Blood","c":"CAG","v":46},{"t":"Whole Blood","c":"CCG","v":94},{"t":"Whole Blood","c":"TTTTA","v":100},
{"t":"Liver","c":"hSTR","v":94},{"t":"Liver","c":"Motif Size=3","v":89},{"t":"Liver","c":"Motif Size=4","v":91},{"t":"Liver","c":"Motif Size=5","v":87},{"t":"Liver","c":"Motif Size=6","v":94},{"t":"Liver","c":"Exonic","v":94},{"t":"Liver","c":"UTR","v":94},{"t":"Liver","c":"Intronic_proximal","v":97},{"t":"Liver","c":"Intronic_distal","v":89},{"t":"Liver","c":"Upstream","v":87},{"t":"Liver","c":"Downstream","v":97},{"t":"Liver","c":"CAG","v":100},{"t":"Liver","c":"CCG","v":89},{"t":"Liver","c":"TTTTA","v":82},
{"t":"Testis","c":"hSTR","v":97},{"t":"Testis","c":"Motif Size=3","v":91},{"t":"Testis","c":"Motif Size=4","v":97},{"t":"Testis","c":"Motif Size=5","v":97},{"t":"Testis","c":"Motif Size=6","v":97},{"t":"Testis","c":"Exonic","v":87},{"t":"Testis","c":"UTR","v":100},{"t":"Testis","c":"Intronic_proximal","v":91},{"t":"Testis","c":"Intronic_distal","v":97},{"t":"Testis","c":"Upstream","v":97},{"t":"Testis","c":"Downstream","v":63},{"t":"Testis","c":"CAG","v":97},{"t":"Testis","c":"CCG","v":88},{"t":"Testis","c":"TTTTA","v":97}
]},
"hconcat":[
{"width":383,"height":434,"title":{"text":"Very high dynamic STR","offset":-29.5},"resolve":{"scale":{"x":"independent","y":"independent"},"axis":{"x":"independent","y":"independent"}},"layer":[
{"data":{"name":"a"},"mark":{"type":"rect","stroke":"#9a9a9a","strokeWidth":1},"encoding":{"x":{"field":"c","type":"nominal","sort":null,"scale":{"paddingInner":0,"paddingOuter":0},"axis":{"title":null,"labelAngle":-45,"labelPadding":3}},"y":{"field":"t","type":"nominal","sort":null,"scale":{"paddingInner":0,"paddingOuter":0},"axis":{"title":"A","titleAngle":0,"titleX":-93,"titleY":2,"titleAlign":"center","titleBaseline":"alphabetic","titleFontSize":27,"titleFontWeight":"bold","titleColor":"#000","titleFont":"Liberation Sans","labelPadding":7}},"color":{"field":"v","type":"quantitative","scale":{"domain":[0,8,15,22,28,35,42,47,52,57,62,66,70,75,80,84,88,91,94,97,100],"range":["#FF2D20","#FF4A2C","#FF6A38","#FF8850","#FFA561","#FFC07A","#FFDC8E","#FFEFA5","#FBFBBF","#EEF7CE","#E4F2DE","#DBEEE8","#CFEBF4","#BDE1EE","#A7D6E7","#8CC6E1","#6FB4D7","#57A3CE","#3E8BC1","#2678B8","#0070B5"]},"legend":{"orient":"none","legendX":413,"legendY":5,"title":"Tissue gene expression rank","titleOrient":"left","titleFontSize":10,"titleFontWeight":"normal","titleColor":"#222","gradientLength":152,"gradientThickness":10,"values":[0,100],"labelExpr":"datum.value==0?'high':'low'","labelFontSize":10.5,"labelColor":"#222","labelOffset":5}}}},
{"resolve":{"axis":{"y":"independent"}},"layer":[
{"data":{"values":[{"line":1,"text":"FIGURE 4 |"}]},"mark":{"type":"text","align":"left","baseline":"middle","fontSize":18,"fontWeight":"bold","color":"#222","font":"Liberation Sans"},"encoding":{"x":{"datum":0.0104,"type":"quantitative","scale":{"domain":[0,1],"range":[-186,1154]},"axis":{"orient":"top","offset":34,"domain":true,"domainColor":"#777","domainWidth":1.5,"labels":false,"ticks":false,"title":null}},"y":{"field":"line","type":"quantitative","scale":{"domain":[-26.28,5.18],"range":[-34,636],"nice":false,"zero":false},"axis":{"orient":"left","offset":186,"domain":true,"domainColor":"#777","domainWidth":1.5,"labels":false,"ticks":false,"title":null}},"text":{"field":"text"}}},
{"data":{"values":[{"line":1,"text":"Tissue-specific expression profiles of vhSTRs and hSTRs."}]},"mark":{"type":"text","align":"left","baseline":"middle","fontSize":17.7,"color":"#222","font":"Liberation Sans","dx":99},"encoding":{"x":{"datum":0.0104,"type":"quantitative"},"y":{"field":"line","type":"quantitative","axis":{"orient":"right","offset":771,"domain":true,"domainColor":"#777","domainWidth":1.5,"labels":false,"ticks":false,"title":null}},"text":{"field":"text"}}},
{"data":{"values":[{"line":1,"text":"(A)"}]},"mark":{"type":"text","align":"left","baseline":"middle","fontSize":17.5,"fontWeight":"bold","color":"#222","font":"Liberation Sans","dx":563},"encoding":{"x":{"datum":0.0104,"type":"quantitative"},"y":{"field":"line","type":"quantitative","axis":null},"text":{"field":"text"}}},
{"data":{"values":[{"line":1,"text":"Tissue-specific expression pattern of vhSTRs."}]},"mark":{"type":"text","align":"left","baseline":"middle","fontSize":17.1,"color":"#222","font":"Liberation Sans","dx":592},"encoding":{"x":{"datum":0.0104,"type":"quantitative"},"y":{"field":"line","type":"quantitative","axis":null},"text":{"field":"text"}}},
{"data":{"values":[{"line":1,"text":"(B)"}]},"mark":{"type":"text","align":"left","baseline":"middle","fontSize":17.5,"fontWeight":"bold","color":"#222","font":"Liberation Sans","dx":943},"encoding":{"x":{"datum":0.0104,"type":"quantitative"},"y":{"field":"line","type":"quantitative","axis":null},"text":{"field":"text"}}},
{"data":{"values":[{"line":1,"text":"Tissue-specific expression pattern of"}]},"mark":{"type":"text","align":"left","baseline":"middle","fontSize":17.5,"color":"#222","font":"Liberation Sans","dx":971},"encoding":{"x":{"datum":0.0104,"type":"quantitative"},"y":{"field":"line","type":"quantitative","axis":null},"text":{"field":"text"}}},
{"data":{"values":[{"line":2,"text":"hSTRs. Heatmaps show the expression patterns of different STRs subset across different tissues based on the normalized expression level. vhSTRs = very highly"}]},"mark":{"type":"text","align":"left","baseline":"middle","fontSize":18.15,"color":"#222","font":"Liberation Sans"},"encoding":{"x":{"datum":0.0104,"type":"quantitative"},"y":{"field":"line","type":"quantitative","axis":null},"text":{"field":"text"}}},
{"data":{"values":[{"line":3,"text":"variable STRs, hSTRs = highly variable STRs. The rows represent the entire dataset of vhSTR or hSTR and their subsets stratified by different motif sizes, genomic"},{"line":4,"text":"regions, and repeat units. The columns represent the tissues."}]},"mark":{"type":"text","align":"left","baseline":"middle","fontSize":18,"color":"#222","font":"Liberation Sans"},"encoding":{"x":{"datum":0.0104,"type":"quantitative"},"y":{"field":"line","type":"quantitative","axis":null},"text":{"field":"text"}}}
]}
]},
{"width":382,"height":437,"data":{"name":"b"},"title":{"text":"High dynamic STR","offset":-16.5},"mark":{"type":"rect","stroke":"#9a9a9a","strokeWidth":1},"encoding":{"x":{"field":"c","type":"nominal","sort":null,"scale":{"paddingInner":0,"paddingOuter":0},"axis":{"title":null,"labelAngle":-45,"labelPadding":3}},"y":{"field":"t","type":"nominal","sort":null,"scale":{"paddingInner":0,"paddingOuter":0,"range":[2.5,436.5]},"axis":{"title":"B","titleAngle":0,"titleX":-92,"titleY":2,"titleAlign":"center","titleBaseline":"alphabetic","titleFontSize":27,"titleFontWeight":"bold","titleColor":"#000","titleFont":"Liberation Sans","labelPadding":7}},"color":{"field":"v","type":"quantitative","scale":{"domain":[0,8,15,22,28,35,42,47,52,57,62,66,70,75,80,84,88,91,94,97,100],"range":["#FF2D20","#FF4A2C","#FF6A38","#FF8850","#FFA561","#FFC07A","#FFDC8E","#FFEFA5","#FBFBBF","#EEF7CE","#E4F2DE","#DBEEE8","#CFEBF4","#BDE1EE","#A7D6E7","#8CC6E1","#6FB4D7","#57A3CE","#3E8BC1","#2678B8","#0070B5"]},"legend":{"orient":"none","legendX":411,"legendY":6,"title":"Tissue gene expression rank","titleOrient":"left","titleFontSize":10,"titleFontWeight":"normal","titleColor":"#222","gradientLength":152,"gradientThickness":10,"values":[0,100],"labelExpr":"datum.value==0?'high':'low'","labelFontSize":10.5,"labelColor":"#222","labelOffset":5}}}}
],"spacing":236,"bounds":"flush"}
